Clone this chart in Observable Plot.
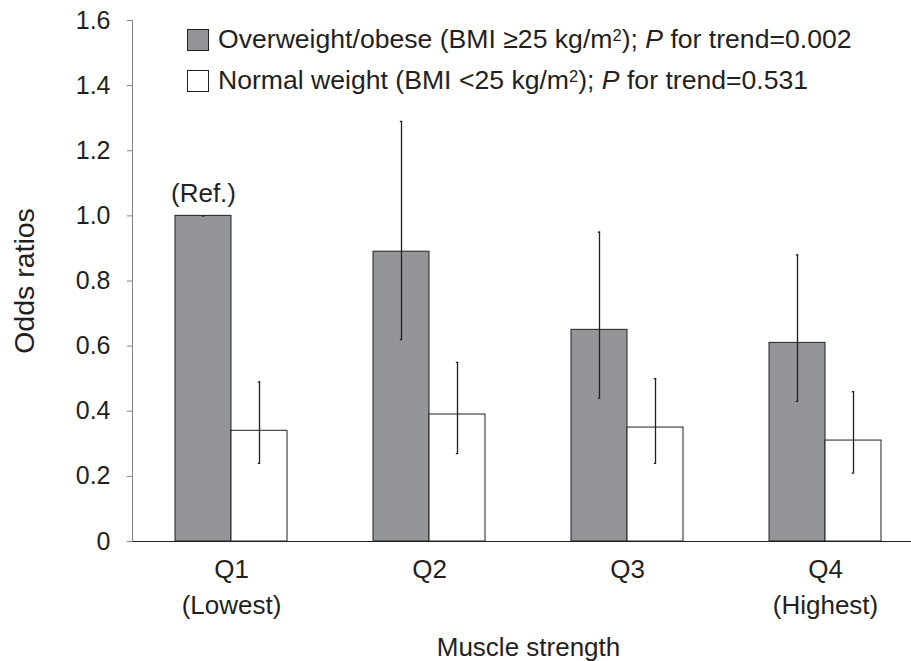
<!DOCTYPE html>
<html><head><meta charset="utf-8">
<script src="https://cdn.jsdelivr.net/npm/d3@7"></script>
<script src="https://cdn.jsdelivr.net/npm/@observablehq/plot@0.6"></script>
<style>
html,body{margin:0;padding:0;background:#fff;overflow:hidden}
#wrap{position:relative;width:911px;height:661px;font-family:"Liberation Sans",Arial,sans-serif;color:#231f20}
#legend{position:absolute;left:187px;top:19px;font-size:26.6px;line-height:41px;white-space:nowrap}
.row{display:flex;align-items:center;height:41px}
.sw{width:22px;height:22px;border:1px solid #231f20;box-sizing:border-box;margin-right:9px;flex:none}
sup{font-size:0.62em;vertical-align:0.45em;line-height:0}
</style></head><body><div id="wrap"><div id="legend"></div></div>
<script>
const quartiles = ["Q1", "Q2", "Q3", "Q4"];
const quartileLabels = ["Q1\n(Lowest)", "Q2", "Q3", "Q4\n(Highest)"];
const seriesNames = ["Overweight/obese", "Normal weight"];
const seriesLegend = [
  "Overweight/obese (BMI ≥25 kg/m<sup>2</sup>); <i>P</i> for trend=0.002",
  "Normal weight (BMI &lt;25 kg/m<sup>2</sup>); <i>P</i> for trend=0.531"
];
const seriesColors = ["#939598", "#ffffff"];
const overweightOR = [1.00, 0.89, 0.65, 0.61];
const overweightLow = [1.00, 0.62, 0.44, 0.43];
const overweightHigh = [1.00, 1.29, 0.95, 0.88];
const normalOR = [0.34, 0.39, 0.35, 0.31];
const normalLow = [0.24, 0.27, 0.24, 0.21];
const normalHigh = [0.49, 0.55, 0.50, 0.46];
const yTicks = [0, 0.2, 0.4, 0.6, 0.8, 1.0, 1.2, 1.4, 1.6];
const refLabel = "(Ref.)";

const data = quartiles.flatMap((q, i) => [
  {q, s: seriesNames[0], or: overweightOR[i], lo: overweightLow[i], hi: overweightHigh[i], ref: i === 0},
  {q, s: seriesNames[1], or: normalOR[i], lo: normalLow[i], hi: normalHigh[i], ref: false}
]);
const ink = "#231f20";

const plot = Plot.plot({
  width: 911, height: 661,
  marginLeft: 131, marginRight: -13, marginTop: 20, marginBottom: 120,
  style: {fontFamily: "'Liberation Sans', Arial, sans-serif", fontSize: "26px", color: ink, background: "white", overflow: "visible"},
  fx: {domain: quartiles, padding: 0, axis: null},
  x: {domain: seriesNames, axis: null, paddingInner: 0, paddingOuter: 0.75},
  y: {domain: [0, 1.6], axis: null},
  color: {domain: seriesNames, range: seriesColors},
  marks: [
    Plot.barY(data, {fx: "q", x: "s", y: "or", fill: "s", stroke: ink, strokeWidth: 1}),
    Plot.ruleX(data, {fx: "q", x: "s", y1: "lo", y2: "hi", stroke: ink, strokeWidth: 1.3}),
    Plot.tickY(data, {fx: "q", x: "s", y: "lo", stroke: ink, strokeWidth: 1.3, insetLeft: 26.8, insetRight: 26.8}),
    Plot.tickY(data, {fx: "q", x: "s", y: "hi", stroke: ink, strokeWidth: 1.3, insetLeft: 26.8, insetRight: 26.8}),
    Plot.text(data.filter(d => d.ref), {fx: "q", x: "s", y: "or", text: () => refLabel, lineAnchor: "bottom", dy: -14, fill: ink}),
    Plot.ruleY([0], {stroke: ink, strokeWidth: 1.2}),
    Plot.axisY({ticks: yTicks, tickFormat: d => d === 0 ? "0" : d.toFixed(1), tickSize: 5, tickPadding: 17, fontSize: 25,
      label: "Odds ratios", labelArrow: "none", labelAnchor: "center", labelOffset: 119, stroke: "#808285", fill: ink}),
    Plot.frame({anchor: "left", facetAnchor: "left", stroke: "#808285"}),
    Plot.axisFx({anchor: "bottom", tickSize: 0, tickPadding: 11, tickFormat: q => quartileLabels[quartiles.indexOf(q)], lineHeight: 1.39,
      label: "Muscle strength", labelArrow: "none", labelAnchor: "center", labelOffset: 114, fill: ink})
  ]
});
document.getElementById("wrap").prepend(plot);
plot.style.position = "absolute"; plot.style.left = "0"; plot.style.top = "0";
d3.select(plot).selectAll('[aria-label="y-axis label"] text, [aria-label="y-axis label"]').attr("font-size", 28.5);
const leg = document.getElementById("legend");
seriesNames.forEach((s, i) => {
  const row = document.createElement("div");
  row.className = "row";
  row.innerHTML = `<span class="sw" style="background:${seriesColors[i]}"></span><span>${seriesLegend[i]}</span>`;
  leg.appendChild(row);
});
</script></body></html>
